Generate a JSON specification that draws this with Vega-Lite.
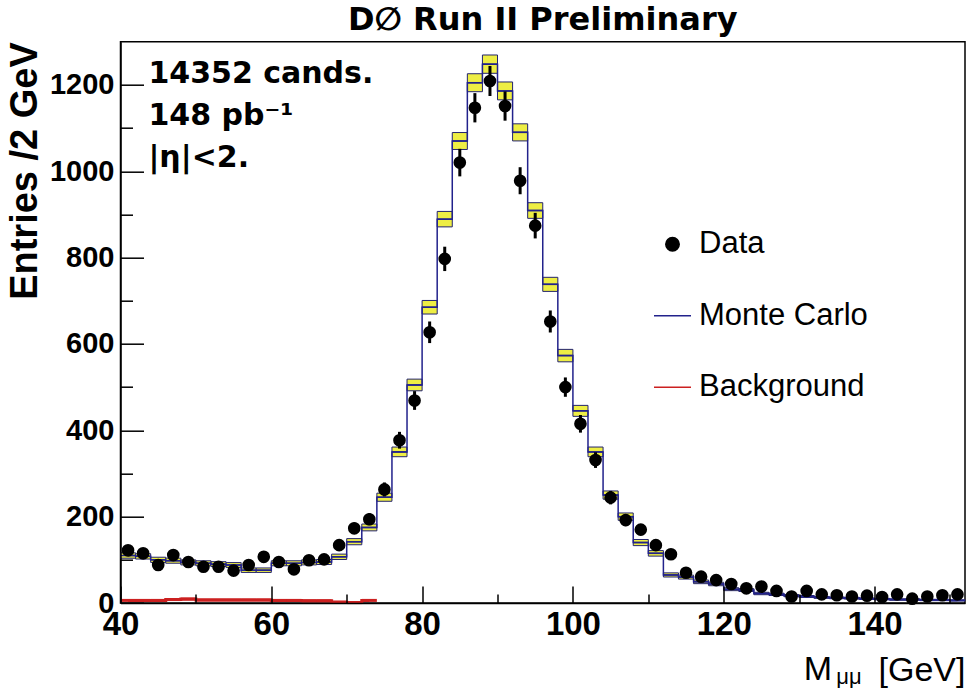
{
  "$schema": "https://vega.github.io/schema/vega-lite/v6.json",
  "width": 844.5,
  "height": 561.3,
  "autosize": {"type": "none"},
  "padding": {"left": 120.5, "top": 41.7, "right": 2, "bottom": 85},
  "background": "white",
  "config": {"view": {"stroke": "black", "strokeWidth": 1.5}, "font": "Liberation Sans"},
  "title": {"text": "D∅ Run II Preliminary", "font": "DejaVu Sans", "fontWeight": "bold", "fontSize": 32, "color": "black", "offset": 5, "anchor": "middle"},
  "data": {"values": [
    {"m":41,"lo":40,"hi":42,"data":122,"derr":11,"mc":110,"mclo":103.7,"mchi":116.3,"bkg":6},
    {"m":43,"lo":42,"hi":44,"data":115,"derr":10.7,"mc":108,"mclo":101.8,"mchi":114.2,"bkg":6},
    {"m":45,"lo":44,"hi":46,"data":88,"derr":9.4,"mc":100,"mclo":94,"mchi":106,"bkg":6},
    {"m":47,"lo":46,"hi":48,"data":111,"derr":10.5,"mc":98,"mclo":92.1,"mchi":103.9,"bkg":8},
    {"m":49,"lo":48,"hi":50,"data":95,"derr":9.7,"mc":94,"mclo":88.2,"mchi":99.8,"bkg":9},
    {"m":51,"lo":50,"hi":52,"data":84,"derr":9.2,"mc":92,"mclo":86.2,"mchi":97.8,"bkg":7},
    {"m":53,"lo":52,"hi":54,"data":84,"derr":9.2,"mc":90,"mclo":84.3,"mchi":95.7,"bkg":7},
    {"m":55,"lo":54,"hi":56,"data":75,"derr":8.7,"mc":88,"mclo":82.4,"mchi":93.6,"bkg":7},
    {"m":57,"lo":56,"hi":58,"data":88,"derr":9.4,"mc":76,"mclo":70.8,"mchi":81.2,"bkg":7},
    {"m":59,"lo":58,"hi":60,"data":107,"derr":10.3,"mc":76,"mclo":70.8,"mchi":81.2,"bkg":7},
    {"m":61,"lo":60,"hi":62,"data":95,"derr":9.7,"mc":92,"mclo":86.2,"mchi":97.8,"bkg":6},
    {"m":63,"lo":62,"hi":64,"data":78,"derr":8.8,"mc":92,"mclo":86.2,"mchi":97.8,"bkg":6},
    {"m":65,"lo":64,"hi":66,"data":99,"derr":9.9,"mc":94,"mclo":88.2,"mchi":99.8,"bkg":5},
    {"m":67,"lo":66,"hi":68,"data":101,"derr":10,"mc":95,"mclo":89.2,"mchi":100.8,"bkg":5},
    {"m":69,"lo":68,"hi":70,"data":134,"derr":11.6,"mc":107,"mclo":100.8,"mchi":113.2,"bkg":2},
    {"m":71,"lo":70,"hi":72,"data":173,"derr":13.2,"mc":142,"mclo":134.9,"mchi":149.1,"bkg":1},
    {"m":73,"lo":72,"hi":74,"data":194,"derr":13.9,"mc":175,"mclo":167.1,"mchi":182.9,"bkg":6},
    {"m":75,"lo":74,"hi":76,"data":263,"derr":16.2,"mc":245,"mclo":235.6,"mchi":254.4,"bkg":null},
    {"m":77,"lo":76,"hi":78,"data":377,"derr":19.4,"mc":350,"mclo":338.8,"mchi":361.2,"bkg":null},
    {"m":79,"lo":78,"hi":80,"data":469,"derr":21.7,"mc":505,"mclo":491.5,"mchi":518.5,"bkg":null},
    {"m":81,"lo":80,"hi":82,"data":627,"derr":25,"mc":685,"mclo":669.3,"mchi":700.7,"bkg":null},
    {"m":83,"lo":82,"hi":84,"data":797,"derr":28.2,"mc":889,"mclo":871.1,"mchi":906.9,"bkg":null},
    {"m":85,"lo":84,"hi":86,"data":1020,"derr":31.9,"mc":1070,"mclo":1050.4,"mchi":1089.6,"bkg":null},
    {"m":87,"lo":86,"hi":88,"data":1147,"derr":33.9,"mc":1205,"mclo":1184.2,"mchi":1225.8,"bkg":null},
    {"m":89,"lo":88,"hi":90,"data":1209,"derr":34.8,"mc":1248,"mclo":1226.8,"mchi":1269.2,"bkg":null},
    {"m":91,"lo":90,"hi":92,"data":1151,"derr":33.9,"mc":1186,"mclo":1165.3,"mchi":1206.7,"bkg":null},
    {"m":93,"lo":92,"hi":94,"data":978,"derr":31.3,"mc":1090,"mclo":1070.2,"mchi":1109.8,"bkg":null},
    {"m":95,"lo":94,"hi":96,"data":874,"derr":29.6,"mc":909,"mclo":890.9,"mchi":927.1,"bkg":null},
    {"m":97,"lo":96,"hi":98,"data":652,"derr":25.5,"mc":738,"mclo":721.7,"mchi":754.3,"bkg":null},
    {"m":99,"lo":98,"hi":100,"data":500,"derr":22.4,"mc":573,"mclo":558.6,"mchi":587.4,"bkg":null},
    {"m":101,"lo":100,"hi":102,"data":415,"derr":20.4,"mc":445,"mclo":432.3,"mchi":457.7,"bkg":null},
    {"m":103,"lo":102,"hi":104,"data":331,"derr":18.2,"mc":350,"mclo":338.8,"mchi":361.2,"bkg":null},
    {"m":105,"lo":104,"hi":106,"data":244,"derr":15.6,"mc":250,"mclo":240.5,"mchi":259.5,"bkg":null},
    {"m":107,"lo":106,"hi":108,"data":192,"derr":13.9,"mc":200,"mclo":191.5,"mchi":208.5,"bkg":null},
    {"m":109,"lo":108,"hi":110,"data":170,"derr":13,"mc":140,"mclo":132.9,"mchi":147.1,"bkg":null},
    {"m":111,"lo":110,"hi":112,"data":134,"derr":11.6,"mc":115,"mclo":108.6,"mchi":121.4,"bkg":null},
    {"m":113,"lo":112,"hi":114,"data":113,"derr":10.6,"mc":65,"mclo":60.2,"mchi":69.8,"bkg":null},
    {"m":115,"lo":114,"hi":116,"data":70,"derr":8.4,"mc":60,"mclo":55.4,"mchi":64.6,"bkg":null},
    {"m":117,"lo":116,"hi":118,"data":61,"derr":7.8,"mc":49,"mclo":44.8,"mchi":53.2,"bkg":null},
    {"m":119,"lo":118,"hi":120,"data":53,"derr":7.3,"mc":44,"mclo":40,"mchi":48,"bkg":null},
    {"m":121,"lo":120,"hi":122,"data":44,"derr":6.6,"mc":32,"mclo":28.6,"mchi":35.4,"bkg":null},
    {"m":123,"lo":122,"hi":124,"data":34,"derr":5.8,"mc":30,"mclo":26.7,"mchi":33.3,"bkg":null},
    {"m":125,"lo":124,"hi":126,"data":38,"derr":6.2,"mc":22,"mclo":19.2,"mchi":24.8,"bkg":null},
    {"m":127,"lo":126,"hi":128,"data":28,"derr":5.3,"mc":20,"mclo":17.3,"mchi":22.7,"bkg":null},
    {"m":129,"lo":128,"hi":130,"data":15,"derr":3.9,"mc":17,"mclo":14.5,"mchi":19.5,"bkg":null},
    {"m":131,"lo":130,"hi":132,"data":28,"derr":5.3,"mc":15,"mclo":12.7,"mchi":17.3,"bkg":null},
    {"m":133,"lo":132,"hi":134,"data":20,"derr":4.5,"mc":13,"mclo":10.8,"mchi":15.2,"bkg":null},
    {"m":135,"lo":134,"hi":136,"data":18,"derr":4.2,"mc":12,"mclo":9.9,"mchi":14.1,"bkg":null},
    {"m":137,"lo":136,"hi":138,"data":15,"derr":3.9,"mc":11,"mclo":9,"mchi":13,"bkg":null},
    {"m":139,"lo":138,"hi":140,"data":17,"derr":4.1,"mc":10,"mclo":8.1,"mchi":11.9,"bkg":null},
    {"m":141,"lo":140,"hi":142,"data":14,"derr":3.7,"mc":9,"mclo":7.2,"mchi":10.8,"bkg":null},
    {"m":143,"lo":142,"hi":144,"data":20,"derr":4.5,"mc":8,"mclo":6.3,"mchi":9.7,"bkg":null},
    {"m":145,"lo":144,"hi":146,"data":10,"derr":3.2,"mc":8,"mclo":6.3,"mchi":9.7,"bkg":null},
    {"m":147,"lo":146,"hi":148,"data":15,"derr":3.9,"mc":7,"mclo":5.4,"mchi":8.6,"bkg":null},
    {"m":149,"lo":148,"hi":150,"data":18,"derr":4.2,"mc":7,"mclo":5.4,"mchi":8.6,"bkg":null},
    {"m":151,"lo":150,"hi":152,"data":20,"derr":4.5,"mc":6,"mclo":4.5,"mchi":7.5,"bkg":null}
  ]},
  "layer": [
    {
      "mark": {"type": "rect", "fill": "#eeee44", "stroke": "#23236e", "strokeWidth": 1},
      "encoding": {
        "x": {"field": "lo", "type": "quantitative", "title": "[GeV]", "scale": {"domain": [40, 152], "nice": false, "zero": false},
          "axis": {"title": "[GeV]", "titleFont": "Liberation Sans", "titleFontSize": 34, "titleFontWeight": "normal", "titleColor": "black", "titleAnchor": "end", "titleAlign": "right", "titleBaseline": "alphabetic", "titleY": 77,
            "values": [40,45,50,55,60,65,70,75,80,85,90,95,100,105,110,115,120,125,130,135,140,145,150],
            "labelExpr": "datum.value % 20 === 0 ? datum.label : ''",
            "tickSize": {"condition": {"test": "datum.value % 20 === 0", "value": -17}, "value": -9},
            "tickColor": "black", "tickWidth": 1.5, "domainColor": "black", "domainWidth": 1.5,
            "labelFont": "Liberation Sans", "labelFontWeight": "bold", "labelFontSize": 33, "labelColor": "black", "labelPadding": 22,
            "labelFlush": false, "labelOverlap": false, "labelBound": false, "grid": false, "zindex": 1}},
        "x2": {"field": "hi"},
        "y": {"field": "mclo", "type": "quantitative", "title": "Entries /2 GeV", "scale": {"domain": [0, 1300], "nice": false, "zero": false},
          "axis": {"title": "Entries /2 GeV", "titleFont": "Liberation Sans", "titleFontSize": 38, "titleFontWeight": "bold", "titleColor": "black", "titleAnchor": "end", "titleAlign": "right", "titleBaseline": "middle", "titleAngle": -90, "titleX": -95, "titleY": 0,
            "values": [0,50,100,150,200,250,300,350,400,450,500,550,600,650,700,750,800,850,900,950,1000,1050,1100,1150,1200,1250],
            "format": "d",
            "labelExpr": "datum.value % 200 === 0 ? datum.label : ''",
            "tickSize": {"condition": {"test": "datum.value % 200 === 0", "value": -23}, "value": -12},
            "tickColor": "black", "tickWidth": 1.5, "domainColor": "black", "domainWidth": 1.5,
            "labelFont": "Liberation Sans", "labelFontWeight": "bold", "labelFontSize": 29, "labelColor": "black", "labelPadding": 29.5,
            "labelOverlap": false, "labelBound": false, "labelFlush": false, "grid": false, "zindex": 1}},
        "y2": {"field": "mchi"}
      }
    },
    {
      "mark": {"type": "rule", "color": "#22228c", "strokeWidth": 1.5},
      "encoding": {
        "x": {"field": "lo", "type": "quantitative", "title": "[GeV]", "scale": {"domain": [40, 152], "nice": false, "zero": false}},
        "x2": {"field": "hi"},
        "y": {"field": "mc", "type": "quantitative", "title": "Entries /2 GeV", "scale": {"domain": [0, 1300], "nice": false, "zero": false}}
      }
    },
    {
      "mark": {"type": "line", "color": "#22228c", "strokeWidth": 1.5, "interpolate": "step"},
      "encoding": {
        "x": {"field": "m", "type": "quantitative", "title": "[GeV]", "scale": {"domain": [40, 152], "nice": false, "zero": false}},
        "y": {"field": "mc", "type": "quantitative", "title": "Entries /2 GeV", "scale": {"domain": [0, 1300], "nice": false, "zero": false}}
      }
    },
    {
      "transform": [{"filter": "datum.bkg != null"}],
      "mark": {"type": "line", "color": "#cc2020", "strokeWidth": 3, "interpolate": "step"},
      "encoding": {
        "x": {"field": "m", "type": "quantitative", "title": "[GeV]", "scale": {"domain": [40, 152], "nice": false, "zero": false}},
        "y": {"field": "bkg", "type": "quantitative", "title": "Entries /2 GeV", "scale": {"domain": [0, 1300], "nice": false, "zero": false}}
      }
    },
    {
      "transform": [{"filter": "datum.bkg != null"}],
      "mark": {"type": "rule", "color": "#cc2020", "strokeWidth": 3},
      "encoding": {
        "x": {"field": "lo", "type": "quantitative", "title": "[GeV]", "scale": {"domain": [40, 152], "nice": false, "zero": false}},
        "x2": {"field": "hi"},
        "y": {"field": "bkg", "type": "quantitative", "title": "Entries /2 GeV", "scale": {"domain": [0, 1300], "nice": false, "zero": false}}
      }
    },
    {
      "mark": {"type": "errorbar", "thickness": 3},
      "encoding": {
        "x": {"field": "m", "type": "quantitative", "title": "[GeV]", "scale": {"domain": [40, 152], "nice": false, "zero": false}},
        "y": {"field": "data", "type": "quantitative", "title": "Entries /2 GeV", "scale": {"domain": [0, 1300], "nice": false, "zero": false}},
        "yError": {"field": "derr"},
        "color": {"value": "black"}
      }
    },
    {
      "mark": {"type": "point", "filled": true, "size": 160, "opacity": 1, "shape": "circle"},
      "encoding": {
        "x": {"field": "m", "type": "quantitative", "title": "[GeV]", "scale": {"domain": [40, 152], "nice": false, "zero": false}},
        "y": {"field": "data", "type": "quantitative", "title": "Entries /2 GeV", "scale": {"domain": [0, 1300], "nice": false, "zero": false}},
        "color": {"datum": "Data",
          "scale": {"domain": ["Data", "Monte Carlo", "Background"], "range": ["#000000", "#22228c", "#cc2020"]},
          "legend": {"title": null, "orient": "none", "legendX": 532.5, "legendY": 183, "padding": 0,
            "labelFont": "Liberation Sans", "labelFontSize": 31, "labelColor": "black", "labelOffset": 7, "labelLimit": 0, "rowPadding": 36.5,
            "symbolSize": 1369, "symbolStrokeWidth": 1.5, "symbolOpacity": 1,
            "encode": {"symbols": {"update": {
              "shape": {"signal": "datum.value === 'Data' ? 'circle' : 'stroke'"},
              "size": {"signal": "datum.value === 'Data' ? 180 : 1369"},
              "stroke": {"scale": "color", "field": "value"},
              "strokeWidth": {"value": 1.5}}}}}}
      }
    },
    {
      "data": {"values": [{}]},
      "mark": {"type": "text", "text": ["14352 cands.", "148 pb⁻¹", "\u2002|η|<2."], "font": "DejaVu Sans", "fontWeight": "bold", "fontSize": 30, "color": "black", "align": "left", "baseline": "alphabetic", "lineHeight": 42},
      "encoding": {
        "x": {"datum": 43.7, "type": "quantitative"},
        "y": {"datum": 1204, "type": "quantitative"}
      }
    },
    {
      "data": {"values": [{}]},
      "mark": {"type": "text", "text": "M", "font": "Liberation Sans", "fontSize": 34, "color": "black", "align": "left", "baseline": "alphabetic"},
      "encoding": {
        "x": {"datum": 130.6, "type": "quantitative"},
        "y": {"datum": -178.3, "type": "quantitative"}
      }
    },
    {
      "data": {"values": [{}]},
      "mark": {"type": "text", "text": "μμ", "font": "Liberation Sans", "fontSize": 22, "color": "black", "align": "center", "baseline": "alphabetic"},
      "encoding": {
        "x": {"datum": 136.6, "type": "quantitative"},
        "y": {"datum": -187, "type": "quantitative"}
      }
    }
  ]
}
